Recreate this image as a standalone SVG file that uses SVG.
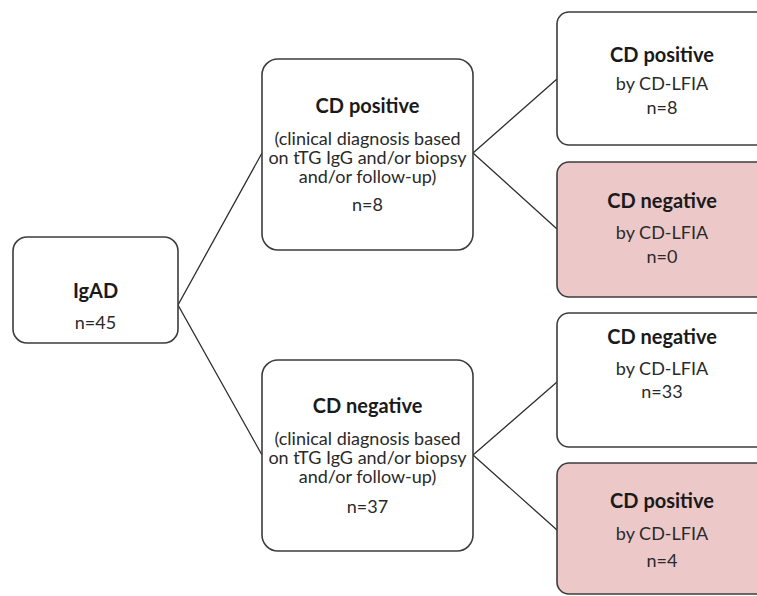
<svg xmlns="http://www.w3.org/2000/svg" width="757" height="596" viewBox="0 0 757 596">
<style>
.box{fill:#ffffff;stroke:#3c3c3c;stroke-width:1.6}
.pink{fill:#ecc8c8}
.t{font-family:Lato,"Liberation Sans",sans-serif;font-size:20px;font-weight:bold;fill:#1a1a1a;text-anchor:middle}
.b{font-family:Lato,"Liberation Sans",sans-serif;font-size:18px;fill:#2a2a2a;text-anchor:middle}
.c{fill:none;stroke:#2e2e2e;stroke-width:1.3}
</style>
<rect width="757" height="596" fill="#ffffff"/>
<g id="connectors">
<polyline class="c" points="262,153 178,305 262,455"/>
<polyline class="c" points="557,79 473,153 557,229"/>
<polyline class="c" points="557,382 473,455 557,530"/>
</g>
<g id="igad">
<rect class="box" x="13" y="237" width="165" height="106" rx="14"/>
<text class="t" x="95.5" y="298">IgAD</text>
<text class="b" x="95.5" y="329">n=45</text>
</g>
<g id="mid-pos">
<rect class="box" x="262" y="59" width="211" height="191" rx="16"/>
<text class="t" x="367.5" y="113">CD positive</text>
<text class="b" x="367.5" y="145">(clinical diagnosis based</text>
<text class="b" x="367.5" y="164">on tTG IgG and/or biopsy</text>
<text class="b" x="367.5" y="183">and/or follow-up)</text>
<text class="b" x="367.5" y="211">n=8</text>
</g>
<g id="mid-neg">
<rect class="box" x="262" y="360" width="211" height="191" rx="16"/>
<text class="t" x="367.5" y="413">CD negative</text>
<text class="b" x="367.5" y="445">(clinical diagnosis based</text>
<text class="b" x="367.5" y="464">on tTG IgG and/or biopsy</text>
<text class="b" x="367.5" y="483">and/or follow-up)</text>
<text class="b" x="367.5" y="513">n=37</text>
</g>
<g id="r1">
<rect class="box" x="557" y="12" width="215" height="133" rx="12"/>
<text class="t" x="662" y="62">CD positive</text>
<text class="b" x="662" y="90">by CD-LFIA</text>
<text class="b" x="662" y="114">n=8</text>
</g>
<g id="r2">
<rect class="box pink" x="557" y="162" width="215" height="135" rx="12"/>
<text class="t" x="662" y="208">CD negative</text>
<text class="b" x="662" y="239">by CD-LFIA</text>
<text class="b" x="662" y="263">n=0</text>
</g>
<g id="r3">
<rect class="box" x="557" y="313" width="215" height="134" rx="12"/>
<text class="t" x="662" y="344">CD negative</text>
<text class="b" x="662" y="375">by CD-LFIA</text>
<text class="b" x="662" y="398">n=33</text>
</g>
<g id="r4">
<rect class="box pink" x="557" y="463" width="215" height="131" rx="12"/>
<text class="t" x="662" y="508">CD positive</text>
<text class="b" x="662" y="540">by CD-LFIA</text>
<text class="b" x="662" y="567">n=4</text>
</g>
</svg>
